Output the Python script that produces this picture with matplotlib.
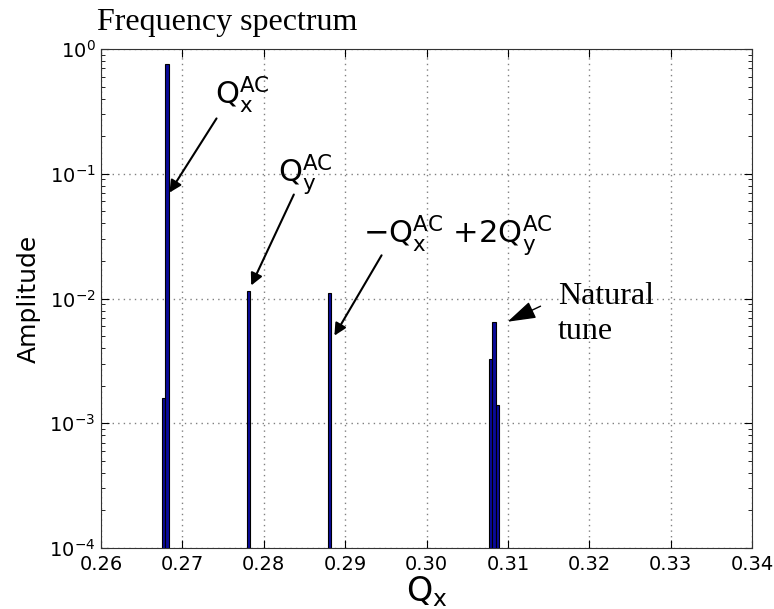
import matplotlib
matplotlib.use('Agg')
import matplotlib.pyplot as plt

# spectrum lines (tune, amplitude)
freq = [0.2677, 0.2681, 0.2781, 0.2881, 0.3079, 0.3083, 0.3087]
amp = [1.6e-3, 0.76, 0.0115, 0.011, 3.3e-3, 6.5e-3, 1.4e-3]
xticks = [0.26, 0.27, 0.28, 0.29, 0.30, 0.31, 0.32, 0.33, 0.34]

plt.rcParams['mathtext.default'] = 'regular'

fig = plt.figure(figsize=(7.74, 6.09), dpi=100)
ax = fig.add_axes([0.1305, 0.1002, 0.8411, 0.8193])
ax.set_yscale('log')
ax.bar(freq, amp, width=0.0004, color='#0a0a9a', edgecolor='black', linewidth=0.8, zorder=3)
ax.set_xlim(0.26, 0.34)
ax.set_ylim(1e-4, 1)
ax.set_xticks(xticks)
ax.set_xticklabels(['%.2f' % t for t in xticks])
ax.grid(True, which='major', linestyle=(0, (1, 3)), color='0.5', linewidth=1)
ax.tick_params(direction='in', top=True, right=True, which='both', labelsize=14)
ax.tick_params(which='major', length=6, pad=4)
ax.tick_params(axis='x', which='major', pad=5)
ax.tick_params(which='minor', length=3)
for s in ax.spines.values():
    s.set_color('0.2')
ax.set_ylabel('Amplitude', fontsize=18, labelpad=6)
ax.set_xlabel('$Q_x$', fontsize=24, labelpad=0)

fig.text(97/774, 1-30/609, 'Frequency spectrum', family='Liberation Serif', fontsize=23, va='baseline')

arrow = dict(arrowstyle='-|>', color='black', lw=1.5, mutation_scale=18)
ax.text(0.27401, 0.362, '$Q_x^{AC}$', fontsize=22)
ax.annotate('', xy=(0.26823, 0.0676), xytext=(0.27438, 0.290), arrowprops=arrow)
ax.text(0.28175, 0.0859, '$Q_y^{AC}$', fontsize=22)
ax.annotate('', xy=(0.27831, 0.01214), xytext=(0.28384, 0.0714), arrowprops=arrow)
ax.text(0.29220, 0.0279, '$-Q_x^{AC}$ +2$Q_y^{AC}$', fontsize=22)
ax.annotate('', xy=(0.28851, 0.00482), xytext=(0.29465, 0.0232), arrowprops=arrow)

ax.text(0.31616, 0.01356, 'Natural\ntune', family='Liberation Serif', fontsize=23,
        va='top', linespacing=1.25)
ax.annotate('', xy=(0.30965, 0.00637), xytext=(0.31432, 0.00887),
            arrowprops=dict(arrowstyle='-|>,head_length=0.8,head_width=0.25', color='black',
                            lw=1, mutation_scale=22))

fig.savefig('out.png', dpi=100)
